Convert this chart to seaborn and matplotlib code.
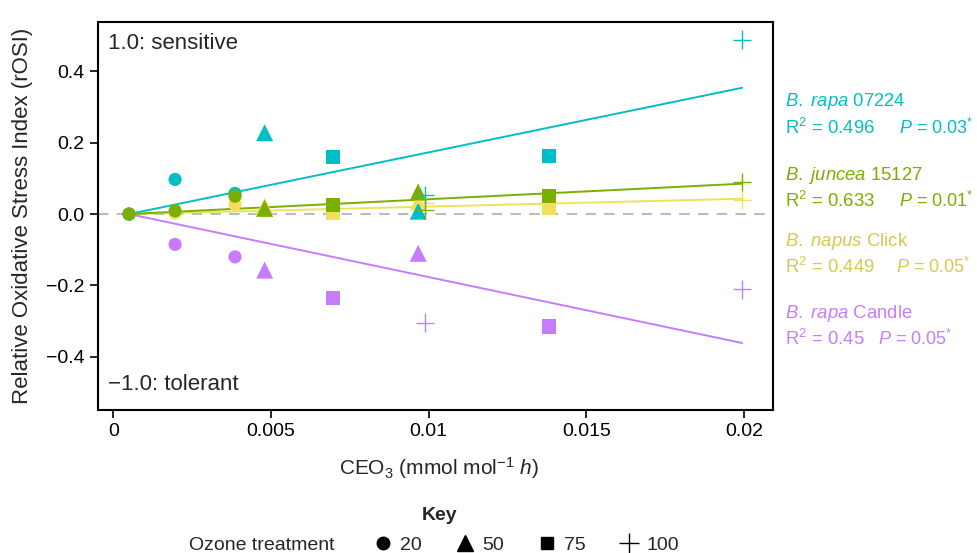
import numpy as np
import pandas as pd
import matplotlib
matplotlib.use('Agg')
import matplotlib.pyplot as plt
from matplotlib.lines import Line2D
import seaborn as sns

# CEO3 dose (mmol mol-1 h) and ozone treatment of each point
cex = [0.0005, 0.00196, 0.00386, 0.0048, 0.00697, 0.00967, 0.00988, 0.01382, 0.01994]
treatment = ['20', '20', '20', '50', '75', '50', '100', '75', '100']

# rOSI per cultivar
rapa_07224 = [0, 0.097, 0.058, 0.228, 0.159, 0.008, 0.053, 0.162, 0.489]
juncea_15127 = [0, 0.009, 0.050, 0.016, 0.025, 0.062, 0.012, 0.050, 0.090]
napus_click = [0, 0.003, 0.027, 0.022, 0.002, 0.034, 0.030, 0.016, 0.039]
rapa_candle = [0, -0.085, -0.120, -0.157, -0.236, -0.110, -0.304, -0.315, -0.211]

species = ['B. rapa Candle', 'B. napus Click', 'B. rapa 07224', 'B. juncea 15127']
values = [rapa_candle, napus_click, rapa_07224, juncea_15127]
palette = {'B. rapa 07224': '#00BFC4', 'B. juncea 15127': '#7CAE00',
           'B. napus Click': '#EFE25A', 'B. rapa Candle': '#C77CFF'}
text_colors = {'B. rapa 07224': '#00BFC4', 'B. juncea 15127': '#7CAE00',
               'B. napus Click': '#D6C94E', 'B. rapa Candle': '#C77CFF'}

# fit statistics shown on the right
labels = [(r'$\mathit{B.\ rapa}$ 07224', 'B. rapa 07224', '0.496', '0.03'),
          (r'$\mathit{B.\ juncea}$ 15127', 'B. juncea 15127', '0.633', '0.01'),
          (r'$\mathit{B.\ napus}$ Click', 'B. napus Click', '0.449', '0.05'),
          (r'$\mathit{B.\ rapa}$ Candle', 'B. rapa Candle', '0.45', '0.05')]

rows = []
for sp, ys in zip(species, values):
    for x, y, t in zip(cex, ys, treatment):
        rows.append({'species': sp, 'cex': x, 'rosi': y, 'treatment': t})
df = pd.DataFrame(rows)

sns.set_style('white')
plt.rcParams['font.family'] = ['Liberation Sans', 'DejaVu Sans']
plt.rcParams['mathtext.fontset'] = 'custom'
plt.rcParams['mathtext.rm'] = 'Liberation Sans'
plt.rcParams['mathtext.it'] = 'Liberation Sans:italic'

fig = plt.figure(figsize=(9.78, 5.53), dpi=100)
ax = fig.add_axes([0.1002, 0.2586, 0.6898, 0.7015])

ax.axhline(0, color='#BBBBBB', lw=1.5, ls=(0, (5, 4)), zorder=1)

# regression lines through the control point
x0 = cex[0]
for sp, ys in zip(species, values):
    xs = np.array(cex) - x0
    slope = np.sum(xs * np.array(ys)) / np.sum(xs ** 2)
    line = pd.DataFrame({'x': [cex[0], cex[-1]],
                         'y': [0, slope * (cex[-1] - x0)]})
    sns.lineplot(data=line, x='x', y='y', color=palette[sp], lw=1.4,
                 ax=ax, zorder=2)

filled = df[df['treatment'] != '100']
sns.scatterplot(data=filled, x='cex', y='rosi', hue='species', style='treatment',
                size='treatment', sizes={'20': 90, '50': 150, '75': 105},
                markers={'20': 'o', '50': '^', '75': 's'}, palette=palette,
                linewidth=0, ax=ax, legend=False, zorder=3)
crosses = df[df['treatment'] == '100']
sns.scatterplot(data=crosses, x='cex', y='rosi', hue='species', marker='+',
                palette=palette, s=180, linewidth=1.0, ax=ax, legend=False,
                zorder=3)

ax.set_xlim(-0.000485, 0.02091)
ax.set_ylim(-0.549, 0.538)
ax.set_xticks([0, 0.005, 0.01, 0.015, 0.02])
ax.set_xticklabels(['0', '0.005', '0.01', '0.015', '0.02'])
ax.set_yticks([-0.4, -0.2, 0, 0.2, 0.4])
ax.set_yticklabels(['\u22120.4', '\u22120.2', '0.0', '0.2', '0.4'])
ax.tick_params(axis='both', direction='out', length=6, width=1.2,
               labelsize=14, colors='black', left=True, bottom=True)
for sp in ax.spines.values():
    sp.set_color('black')
    sp.set_linewidth(1.5)

ax.set_xlabel(r'CEO$_3$ (mmol mol$^{-1}$ $\mathit{h}$)', fontsize=15)
ax.xaxis.set_label_coords(0.505, -0.149)
ax.xaxis.label.set_va('center')
ax.set_ylabel('Relative Oxidative Stress Index (rOSI)', fontsize=16)
ax.yaxis.set_label_coords(-0.112, 0.5)
ax.yaxis.label.set_va('center')

ax.text(0.015, 0.945, '1.0: sensitive', transform=ax.transAxes,
        fontsize=16, va='center', ha='left')
ax.text(0.015, 0.067, '\u22121.0: tolerant', transform=ax.transAxes,
        fontsize=16, va='center', ha='left')

# cultivar annotations on the right
name_y = [102, 175, 241, 313]
p_x = [899, 899, 896, 878]
for (name, sp, r2, p), yy, px in zip(labels, name_y, p_x):
    c = text_colors[sp]
    fig.text(785 / 978, 1 - yy / 553, name, color=c, fontsize=13.3,
             va='center', ha='left')
    fig.text(785 / 978, 1 - (yy + 25.5) / 553, r'R$^2$ = ' + r2, color=c,
             fontsize=13.3, va='center', ha='left')
    fig.text(px / 978, 1 - (yy + 25.5) / 553, r'$\mathit{P}$ = ' + p + r'$^{*}$',
             color=c, fontsize=13, va='center', ha='left')

# key
fig.text(440 / 978, 1 - 515 / 553, 'Key', fontsize=14, fontweight='bold',
         ha='center', va='center')
fig.text(262 / 978, 1 - 545 / 553, 'Ozone treatment', fontsize=14,
         ha='center', va='center')
handles = [Line2D([], [], ls='none', marker='o', color='black', markersize=9),
           Line2D([], [], ls='none', marker='^', color='black', markersize=11),
           Line2D([], [], ls='none', marker='s', color='black', markersize=9),
           Line2D([], [], ls='none', marker='+', color='black', markersize=15,
                  markeredgewidth=1.0)]
fig.legend(handles, ['20', '50', '75', '100'], ncol=4, frameon=False,
           loc='center', bbox_to_anchor=(525 / 978, 1 - 545 / 553),
           fontsize=14, handletextpad=0.3, columnspacing=1.6,
           handlelength=1.2, borderpad=0)

plt.savefig('out.png', dpi=100)
